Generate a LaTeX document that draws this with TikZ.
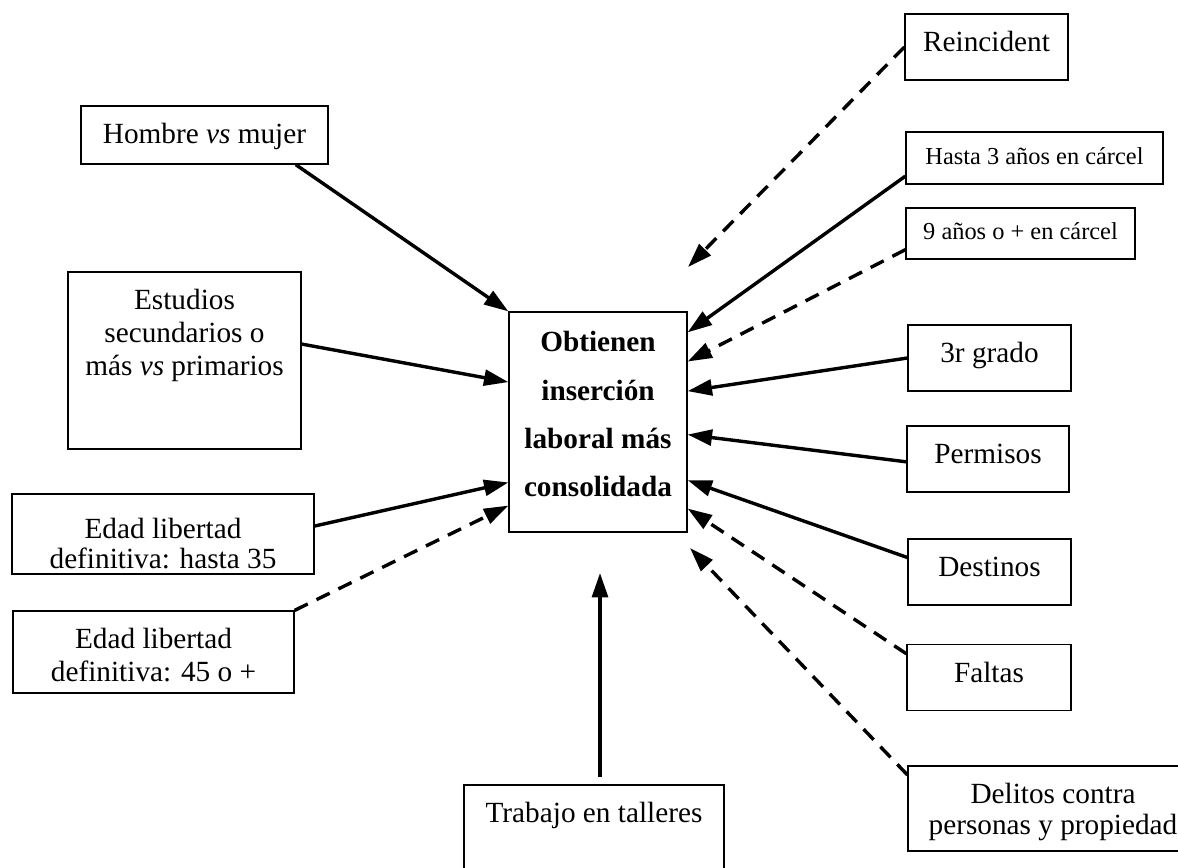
\documentclass[tikz,border=0pt]{standalone}
\usepackage{fontspec}
\setmainfont{Liberation Serif}
\usetikzlibrary{arrows.meta}
\tikzset{
  caja/.style={draw, line width=.5pt, inner sep=0pt, font=\fontsize{12}{14}\selectfont},
  fila/.style={caja, text height=15.4pt, text depth=11.7pt},
  chica/.style={caja, font=\fontsize{10}{12}\selectfont},
  flecha/.style={line width=1.4pt, ->},
  punteada/.style={flecha, dash pattern=on 6pt off 4pt},
}
\newcommand{\lineas}[2]{\fontsize{12}{#1}\selectfont\begin{tabular}[t]{@{}c@{}}#2\end{tabular}}
\begin{document}
\begin{tikzpicture}[x=0.41pt, y=-0.41pt, >={Triangle[length=10pt,width=6.5pt]}]
			\useasboundingbox (0,0) rectangle (1178,868);
			\clip (0,0) rectangle (1178,868);
			\node[caja, minimum width=73pt, text height=16.4pt, text depth=73.8pt] (obt) at (598,422)
				{\bfseries\lineas{19.7pt}{Obtienen\\inserción\\laboral más\\consolidada}};
			\node[caja, minimum width=101.3pt, text height=15.2pt, text depth=8.6pt] (hombre) at (204.5,135) {Hombre \textit{vs} mujer};
			\node[caja, minimum width=95.5pt, text height=15.2pt, text depth=57.4pt] (estudios) at (184.5,360.5)
				{\lineas{13.7pt}{Estudios\\secundarios o\\más \textit{vs} primarios}};
			\node[caja, minimum width=123.8pt, text height=18.4pt, text depth=14.4pt] (edadA) at (163,534)
				{\lineas{12pt}{Edad libertad\\definitiva: hasta 35}};
			\node[caja, minimum width=115.2pt, text height=15.2pt, text depth=18.4pt] (edadB) at (153.5,652)
				{\lineas{13.5pt}{Edad libertad\\definitiva: 45 o +}};
			\node[caja, minimum width=66.8pt, text height=15.2pt, text depth=11.9pt] (reinc) at (986.5,47) {Reincident};
			\node[chica, minimum width=105.4pt, text height=13.5pt, text depth=7.8pt] (hasta) at (1034.5,158) {Hasta 3 años en cárcel};
			\node[chica, minimum width=93.9pt, text height=13.1pt, text depth=7.8pt] (nueve) at (1020.5,233.5) {9 años o + en cárcel};
			\node[fila, minimum width=66.8pt] (tercer) at (989.5,358) {3r grado};
			\node[fila, minimum width=66.4pt] (permisos) at (988,459) {Permisos};
			\node[fila, minimum width=66.8pt] (destinos) at (989.5,572) {Destinos};
			\node[fila, minimum width=67.2pt] (faltas) at (989,677.5) {Faltas};
			\node[caja, minimum width=118.9pt, text height=15.2pt, text depth=19.7pt] (delitos) at (1053,808.5)
				{\lineas{13.1pt}{Delitos contra\\personas y propiedad}};
			\node[caja, minimum width=106.6pt, text height=15.6pt, text depth=27.5pt] (trabajo) at (594,837.5) {Trabajo en talleres};
			\coordinate (pReinc) at (688,267);
			\coordinate (pDelitos) at (690,548);
			\coordinate (pTrabajo) at (600,573);
			\draw[flecha] (hombre.342.2) -- (obt.north west);
			\draw[flecha] (estudios.8.1) -- (obt.156.3);
			\draw[flecha] (edadA.3.4) -- (obt.214.4);
			\draw[punteada] (edadB.north east) -- (obt.223.7);
			\draw[punteada] (reinc.west) -- (pReinc);
			\draw[flecha] (hasta.188.4) -- (obt.45.9);
			\draw[punteada] (nueve.188.2) -- (obt.34.9);
			\draw[flecha] (tercer.west) -- (obt.19.8);
			\draw[flecha] (permisos.182.8) -- (obt.352.3);
			\draw[flecha] (destinos.170.9) -- (obt.327.8);
			\draw[punteada] (faltas.164.7) -- (obt.316.3);
			\draw[punteada] (delitos.167.7) -- (pDelitos);
			\draw[flecha, shorten <=2.9pt] (trabajo.north -| pTrabajo) -- (pTrabajo);
		\end{tikzpicture}
\end{document}
